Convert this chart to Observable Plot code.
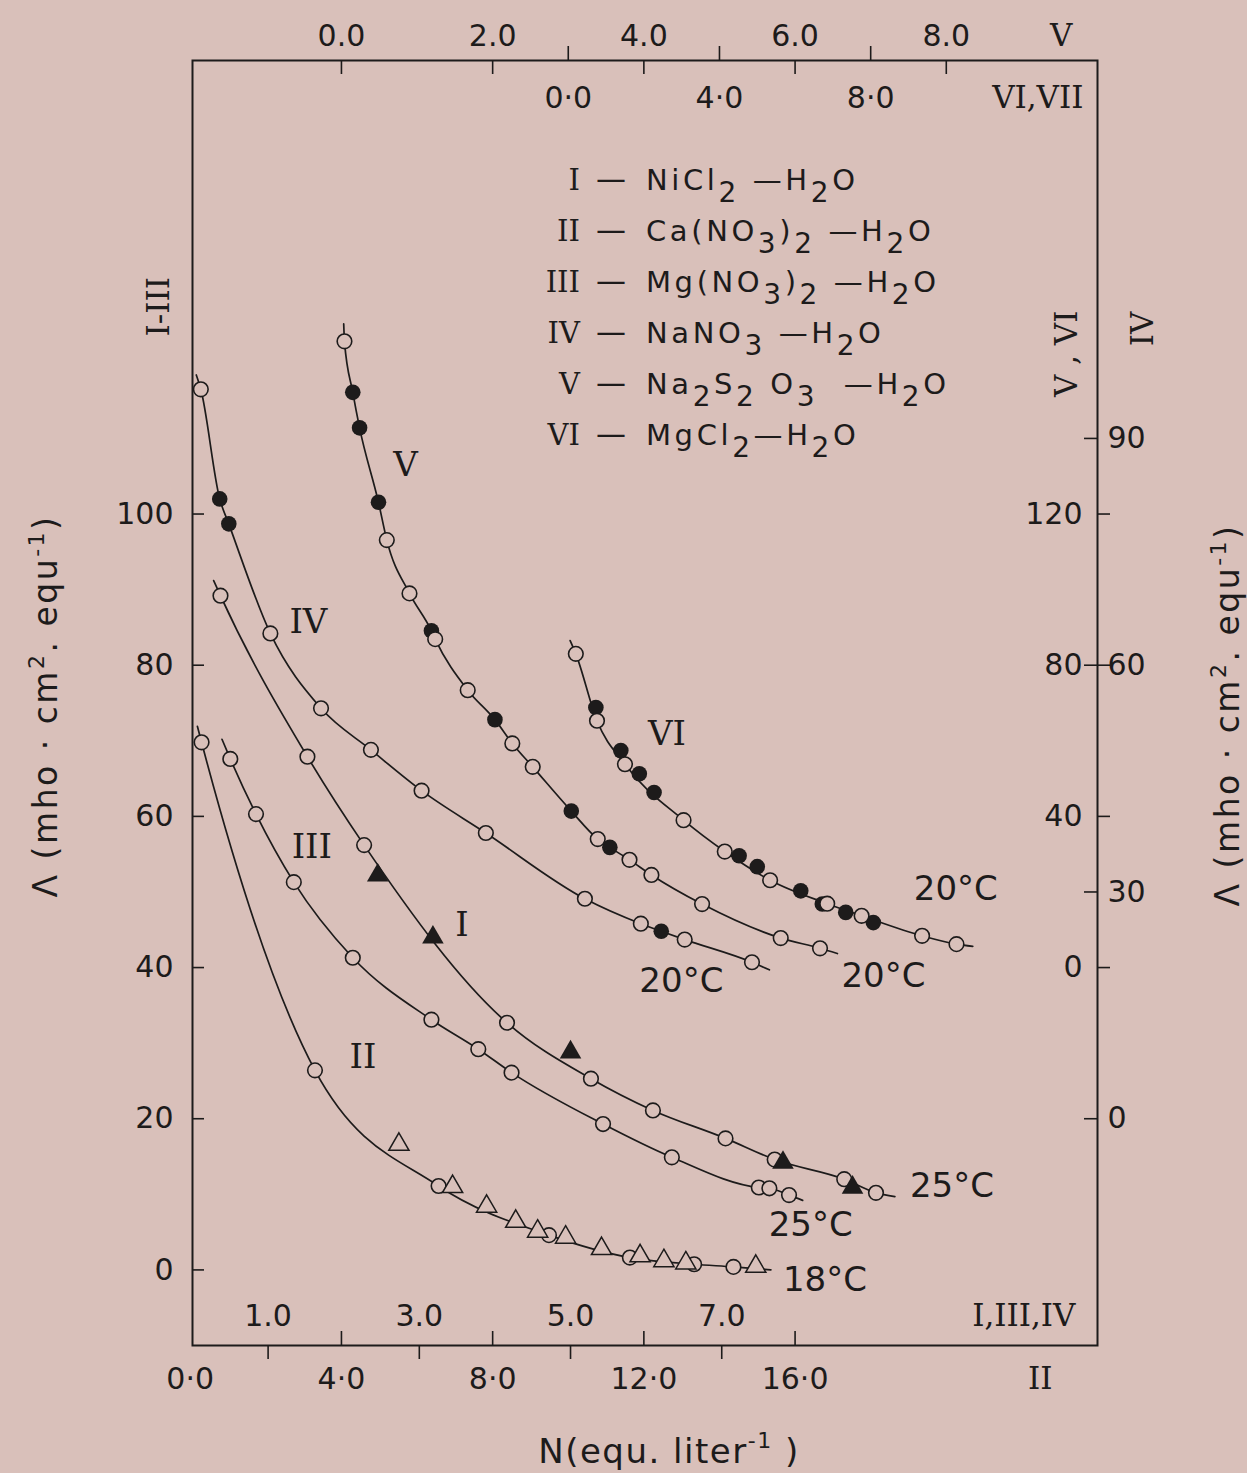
<!DOCTYPE html>
<html>
<head>
<meta charset="utf-8">
<script src="https://cdn.jsdelivr.net/npm/d3@7"></script>
<script src="https://cdn.jsdelivr.net/npm/@observablehq/plot@0.6"></script>
<style>
  html, body { margin: 0; padding: 0; background: #d9c0ba; }
  #chart svg { display: block; }
</style>
</head>
<body>
<div id="chart"></div>
<script>
// ================= DATA (each series in its own axis units) =================

// Axis tick values
const xTicksII       = [0, 4, 8, 12, 16];          // bottom, outside  (series II)
const xTicksI_III_IV = [1, 3, 5, 7];               // bottom, inside   (series I, III, IV)
const xTicksV        = [0, 2, 4, 6, 8];            // top, outside     (series V)
const xTicksVI_VII   = [0, 4, 8];                  // top, inside      (series VI, VII)
const yTicksI_III    = [0, 20, 40, 60, 80, 100];   // left             (series I–III)
const yTicksV_VI     = [0, 40, 80, 120];           // right, inside    (series V, VI)
const yTicksIV       = [0, 30, 60, 90];            // right, outside   (series IV)

// Curve identifiers, temperatures, legend formulas
const curveIds   = ["I", "II", "III", "IV", "V", "VI"];
const curveTemps = ["25°C", "18°C", "25°C", "20°C", "20°C", "20°C"];
const curveFormulas = [
  ["NiCl", ["2"], " —H", ["2"], "O"],
  ["Ca(NO", ["3"], ")", ["2"], " —H", ["2"], "O"],
  ["Mg(NO", ["3"], ")", ["2"], " —H", ["2"], "O"],
  ["NaNO", ["3"], " —H", ["2"], "O"],
  ["Na", ["2"], "S", ["2"], " O", ["3"], "  —H", ["2"], "O"],
  ["MgCl", ["2"], "—H", ["2"], "O"]
];

// I — NiCl2–H2O, 25 °C   (a = open circle source, c = filled-triangle source)
const nicl2N      = [0.37, 1.52, 2.27, 2.45, 3.18, 4.16, 5.00, 5.27, 6.09, 7.05, 7.70, 7.81, 8.62, 8.73, 9.04];
const nicl2Lambda = [89.2, 67.9, 56.2, 52.2, 44.0, 32.7, 28.8, 25.3, 21.1, 17.4, 14.6, 14.2, 12.0, 10.9, 10.2];
const nicl2Src    = ["a","a","a","c","c","a","c","a","a","a","a","c","a","c","a"];
const nicl2Ends   = [[0.28, 91.2], [9.29, 9.7]];

// II — Ca(NO3)2–H2O, 18 °C   (a = open circle, d = open triangle)
const canoN      = [0.30, 3.30, 5.52, 6.57, 6.94, 7.84, 8.61, 9.19, 9.49, 9.93, 10.88, 11.63, 11.90, 12.53, 13.11, 13.33, 14.37, 14.96];
const canoLambda = [69.8, 26.4, 16.6, 11.1, 11.0, 8.4, 6.4, 5.1, 4.6, 4.3, 2.8, 1.63, 1.85, 1.2, 0.9, 0.75, 0.40, 0.45];
const canoSrc    = ["a","a","d","a","d","d","d","d","a","d","d","a","d","d","d","a","a","d"];
const canoEnds   = [[0.19, 71.9], [15.36, 0.0]];

// III — Mg(NO3)2–H2O, 25 °C
const mgnoN      = [0.50, 0.84, 1.34, 2.12, 3.16, 3.78, 4.22, 5.43, 6.34, 7.49, 7.63, 7.89];
const mgnoLambda = [67.6, 60.3, 51.3, 41.3, 33.1, 29.2, 26.1, 19.3, 14.9, 10.9, 10.8, 9.9];
const mgnoSrc    = ["a","a","a","a","a","a","a","a","a","a","a","a"];
const mgnoEnds   = [[0.39, 70.2], [8.07, 9.2]];

// IV — NaNO3–H2O, 20 °C   (b = filled circle)
const nanoN      = [0.11, 0.36, 0.48, 1.03, 1.70, 2.36, 3.03, 3.88, 5.19, 5.93, 6.20, 6.51, 7.40];
const nanoLambda = [96.5, 82.0, 78.7, 64.2, 54.3, 48.8, 43.4, 37.8, 29.1, 25.8, 24.8, 23.7, 20.7];
const nanoSrc    = ["a","b","b","a","a","a","a","a","a","a","b","a","a"];
const nanoEnds   = [[0.05, 98.4], [7.63, 19.7]];

// V — Na2S2O3–H2O, 20 °C
const naso3N      = [0.04, 0.15, 0.24, 0.49, 0.60, 0.90, 1.19, 1.24, 1.67, 2.03, 2.26, 2.53, 3.04, 3.39, 3.55, 3.81, 4.10, 4.77, 5.81, 6.33];
const naso3Lambda = [165.7, 152.2, 142.8, 123.1, 113.1, 99.0, 89.1, 86.9, 73.4, 65.6, 59.3, 53.1, 41.4, 34.0, 31.8, 28.5, 24.5, 16.8, 7.8, 5.1];
const naso3Src    = ["a","b","b","b","a","a","b","a","a","b","a","a","b","a","b","a","a","a","a","a"];
const naso3Ends   = [[0.03, 170.3], [6.56, 3.7]];

// VI — MgCl2–H2O, 20 °C
const mgclN      = [0.20, 0.73, 0.76, 1.39, 1.50, 1.88, 2.27, 3.05, 4.14, 4.52, 5.00, 5.34, 6.15, 6.72, 6.85, 7.34, 7.76, 8.07, 9.36, 10.27];
const mgclLambda = [83.0, 68.8, 65.3, 57.4, 53.8, 51.3, 46.3, 39.0, 30.7, 29.6, 26.7, 23.1, 20.3, 16.8, 16.9, 14.6, 13.7, 11.9, 8.4, 6.2];
const mgclSrc    = ["a","b","a","b","a","b","b","a","a","b","b","a","b","b","a","b","a","b","a","a"];
const mgclEnds   = [[0.05, 86.5], [10.70, 5.6]];

// ================= AXIS GEOMETRY: every axis onto one shared frame =================
// shared x = Ca(NO3)2 scale (II); shared y = I–III scale
const toBaseX = {
  "II":       v => v,
  "I,III,IV": v => 2 * v + 0.06,
  "V":        v => 4 + 2 * v,
  "VI,VII":   v => 10 + v
};
const toBaseY = {
  "I-III": v => v,
  "IV":    v => v + 20,
  "V, VI": v => 40 + v / 2
};

const series = [
  {id: "I",   xA: "I,III,IV", yA: "I-III", N: nicl2N, L: nicl2Lambda, src: nicl2Src, ends: nicl2Ends, via: "a"},
  {id: "II",  xA: "II",       yA: "I-III", N: canoN,  L: canoLambda,  src: canoSrc,  ends: canoEnds,  via: "a"},
  {id: "III", xA: "I,III,IV", yA: "I-III", N: mgnoN,  L: mgnoLambda,  src: mgnoSrc,  ends: mgnoEnds,  via: "all"},
  {id: "IV",  xA: "I,III,IV", yA: "IV",    N: nanoN,  L: nanoLambda,  src: nanoSrc,  ends: nanoEnds,  via: "all"},
  {id: "V",   xA: "V",        yA: "V, VI", N: naso3N, L: naso3Lambda, src: naso3Src, ends: naso3Ends, via: "all"},
  {id: "VI",  xA: "VI,VII",   yA: "V, VI", N: mgclN,  L: mgclLambda,  src: mgclSrc,  ends: mgclEnds,  via: "a"}
].map((s, k) => {
  const fx = toBaseX[s.xA], fy = toBaseY[s.yA];
  const pts = s.N.map((n, i) => ({id: s.id, src: s.src[i], bx: fx(n), by: fy(s.L[i])}));
  const onLine = pts.filter(p => s.via === "all" || p.src === s.via);
  const line = [
    {bx: fx(s.ends[0][0]), by: fy(s.ends[0][1])},
    ...onLine,
    {bx: fx(s.ends[1][0]), by: fy(s.ends[1][1])}
  ].sort((a, b) => a.bx - b.bx);
  return {...s, pts, line, temp: curveTemps[k], end: line[line.length - 1]};
});
const points = series.flatMap(s => s.pts);

// ================= STYLE =================
const BG = "#d9c0ba", INK = "#1d1b1b";
const SANS = "DejaVu Sans", SERIF = "DejaVu Serif";
const W = 1247, H = 1473;
const M = {top: 60, right: 150, bottom: 128, left: 192};
const FW = W - M.left - M.right, FH = H - M.top - M.bottom;
const TL = 14;
const tick = {stroke: INK, strokeWidth: 1.6};
const lab = {fontSize: 30, fill: INK, fontFamily: SANS, label: null};
const fmt = (ticks, f, sep) => { const m = new Map(ticks.map(v => [f(v), v.toFixed(1).replace(".", sep)])); return d => m.get(d); };
const fmtInt = (ticks, f) => { const m = new Map(ticks.map(v => [f(v), String(v)])); return d => m.get(d); };

// label placement: [anchor point index, dx, dy] and [dx, dy] from curve end
const namePlace = {I: [4, 29, -12], II: [1, 48, -13], III: [2, 18, -35], IV: [3, 38, -11], V: [3, 27, -37], VI: [4, 42, -30]};
const tempPlace = {I: [57, -10], II: [54, 10], III: [8, 25], IV: [-88, 11], V: [46, 23], VI: [-17, -57]};

const plot = Plot.plot({
  width: W, height: H,
  marginTop: M.top, marginRight: M.right, marginBottom: M.bottom, marginLeft: M.left,
  style: {background: BG, fontFamily: SANS, color: INK},
  x: {domain: [0.06, 24.0], axis: null},
  y: {domain: [-10, 160], axis: null},
  marks: [
    Plot.frame({stroke: INK, strokeWidth: 2}),

    // tick marks (each points away from its labels)
    Plot.ruleX(xTicksII.filter(v => v > 0), {x: toBaseX["II"], insetTop: FH - TL, ...tick}),
    Plot.ruleX(xTicksI_III_IV, {x: toBaseX["I,III,IV"], insetTop: FH, insetBottom: -TL, ...tick}),
    Plot.ruleX(xTicksV, {x: toBaseX["V"], insetBottom: FH - TL, ...tick}),
    Plot.ruleX(xTicksVI_VII, {x: toBaseX["VI,VII"], insetBottom: FH, insetTop: -TL, ...tick}),
    Plot.ruleY(yTicksI_III, {y: toBaseY["I-III"], insetRight: FW - 12, ...tick}),
    Plot.ruleY(yTicksIV, {y: toBaseY["IV"], insetLeft: FW - 13, ...tick}),
    Plot.ruleY(yTicksV_VI, {y: toBaseY["V, VI"], insetLeft: FW, insetRight: -13, ...tick}),

    // tick labels
    Plot.axisX({anchor: "bottom", ticks: xTicksII.map(toBaseX["II"]), tickSize: 0, tickPadding: 22,
      tickFormat: fmt(xTicksII, toBaseX["II"], "·"), ...lab}),
    Plot.axisX({anchor: "bottom", ticks: xTicksI_III_IV.map(toBaseX["I,III,IV"]), tickSize: 0, tickPadding: -41,
      tickFormat: fmt(xTicksI_III_IV, toBaseX["I,III,IV"], "."), ...lab}),
    Plot.axisX({anchor: "top", ticks: xTicksV.map(toBaseX["V"]), tickSize: 0, tickPadding: 15,
      tickFormat: fmt(xTicksV, toBaseX["V"], "."), ...lab}),
    Plot.axisX({anchor: "top", ticks: xTicksVI_VII.map(toBaseX["VI,VII"]), tickSize: 0, tickPadding: -47,
      tickFormat: fmt(xTicksVI_VII, toBaseX["VI,VII"], "·"), ...lab}),
    Plot.axisY({anchor: "left", ticks: yTicksI_III.map(toBaseY["I-III"]), tickSize: 0, tickPadding: 19,
      tickFormat: fmtInt(yTicksI_III, toBaseY["I-III"]), ...lab}),
    Plot.axisY({anchor: "right", ticks: yTicksIV.map(toBaseY["IV"]), tickSize: 0, tickPadding: 10,
      tickFormat: fmtInt(yTicksIV, toBaseY["IV"]), ...lab}),
    Plot.axisY({anchor: "right", ticks: yTicksV_VI.map(toBaseY["V, VI"]), tickSize: 0, tickPadding: -15, textAnchor: "end",
      tickFormat: fmtInt(yTicksV_VI, toBaseY["V, VI"]), ...lab}),

    // axis identifiers
    Plot.text(["V"], {text: d => d, frameAnchor: "top-right", dx: -25, dy: -15, lineAnchor: "bottom", fontFamily: SERIF, fontSize: 31, fill: INK}),
    Plot.text(["VI,VII"], {text: d => d, frameAnchor: "top-right", dx: -14, dy: 47, lineAnchor: "bottom", textAnchor: "end", fontFamily: SERIF, fontSize: 31, fill: INK}),
    Plot.text(["I,III,IV"], {text: d => d, frameAnchor: "bottom-right", dx: -22, dy: -20, lineAnchor: "bottom", textAnchor: "end", fontFamily: SERIF, fontSize: 31, fill: INK}),
    Plot.text(["II"], {text: d => d, frameAnchor: "bottom-right", dx: -45, dy: 43, lineAnchor: "bottom", fontFamily: SERIF, fontSize: 31, fill: INK}),
    Plot.text(["I-III"], {text: d => d, frameAnchor: "top-left", dx: -46, dy: 276, rotate: -90, fontFamily: SERIF, fontSize: 31, fill: INK}),
    Plot.text(["V , VI"], {text: d => d, frameAnchor: "top-right", dx: -43, dy: 250, rotate: -90, fontFamily: SERIF, fontSize: 31, fill: INK}),
    Plot.text(["IV"], {text: d => d, frameAnchor: "top-right", dx: 33, dy: 251, rotate: -90, fontFamily: SERIF, fontSize: 31, fill: INK}),

    // curves
    ...series.map(s => Plot.line(s.line, {x: "bx", y: "by", curve: "monotone-x", stroke: INK, strokeWidth: 1.7})),

    // markers
    Plot.dot(points.filter(p => p.src === "b"), {x: "bx", y: "by", r: 7.8, fill: INK}),
    Plot.dot(points.filter(p => p.src === "a"), {x: "bx", y: "by", r: 7.3, fill: BG, stroke: INK, strokeWidth: 1.6}),
    Plot.dot(points.filter(p => p.src === "d"), {x: "bx", y: "by", r: 7.5, symbol: "triangle", fill: BG, stroke: INK, strokeWidth: 1.5}),
    Plot.dot(points.filter(p => p.src === "c"), {x: "bx", y: "by", r: 8, symbol: "triangle", fill: INK}),

    // curve names
    ...series.map(s => {
      const [i, dx, dy] = namePlace[s.id];
      return Plot.text([s.pts[i]], {x: "bx", y: "by", text: () => s.id, dx, dy, fontFamily: SERIF, fontSize: 34, fill: INK});
    }),
    // temperatures
    ...series.map(s => {
      const [dx, dy] = tempPlace[s.id];
      return Plot.text([s.end], {x: "bx", y: "by", text: () => s.temp, dx, dy, fontFamily: SANS, fontSize: 34, fill: INK});
    })
  ]
});

document.getElementById("chart").appendChild(plot);

// ================= rich text: legend and axis titles =================
const root = d3.select(plot);
function rich(g, parts, shift, size) {
  const t = g.append("text");
  let off = 0;
  for (const p of parts) {
    if (typeof p === "string") {
      t.append("tspan").attr("dy", -off).text(p); off = 0;
    } else {
      const d = shift - off;
      t.append("tspan").attr("dy", d).attr("font-size", size).text(p[0]); off = shift;
    }
  }
  return t;
}

const legend = root.append("g").attr("fill", INK).attr("text-anchor", "start");
curveIds.forEach((id, i) => {
  const yb = 190 + 51 * i;
  legend.append("text").attr("x", 580).attr("y", yb).attr("text-anchor", "end")
    .attr("font-family", SERIF).attr("font-size", 29).text(id);
  legend.append("text").attr("x", 596).attr("y", yb - 1).attr("text-anchor", "start")
    .attr("font-family", SANS).attr("font-size", 30).text("—");
  const g = legend.append("g").attr("transform", `translate(646,${yb})`).attr("text-anchor", "start")
    .attr("font-family", SANS).attr("font-size", 29).attr("letter-spacing", 3.6);
  rich(g, curveFormulas[i], 12, 28);
});

const yTitle = ["Λ (mho · cm", ["2"], ". equ", ["-1"], ")"];
[[46, 706], [1228, 715]].forEach(([x, y]) => {
  const g = root.append("g").attr("transform", `translate(${x},${y}) rotate(-90)`)
    .attr("font-family", SANS).attr("font-size", 33).attr("fill", INK).attr("text-anchor", "middle")
    .attr("letter-spacing", 2.5);
  rich(g, yTitle, -13, 22).attr("y", 11);
});
{
  const g = root.append("g").attr("transform", `translate(669,1463)`)
    .attr("font-family", SANS).attr("font-size", 34).attr("fill", INK).attr("text-anchor", "middle")
    .attr("letter-spacing", 1.5);
  rich(g, ["N(equ. liter", ["-1"], " )"], -15, 22);
}
root.selectAll('g[aria-label$="tick-label"] text').style("letter-spacing", "3px");
</script>
</body>
</html>
